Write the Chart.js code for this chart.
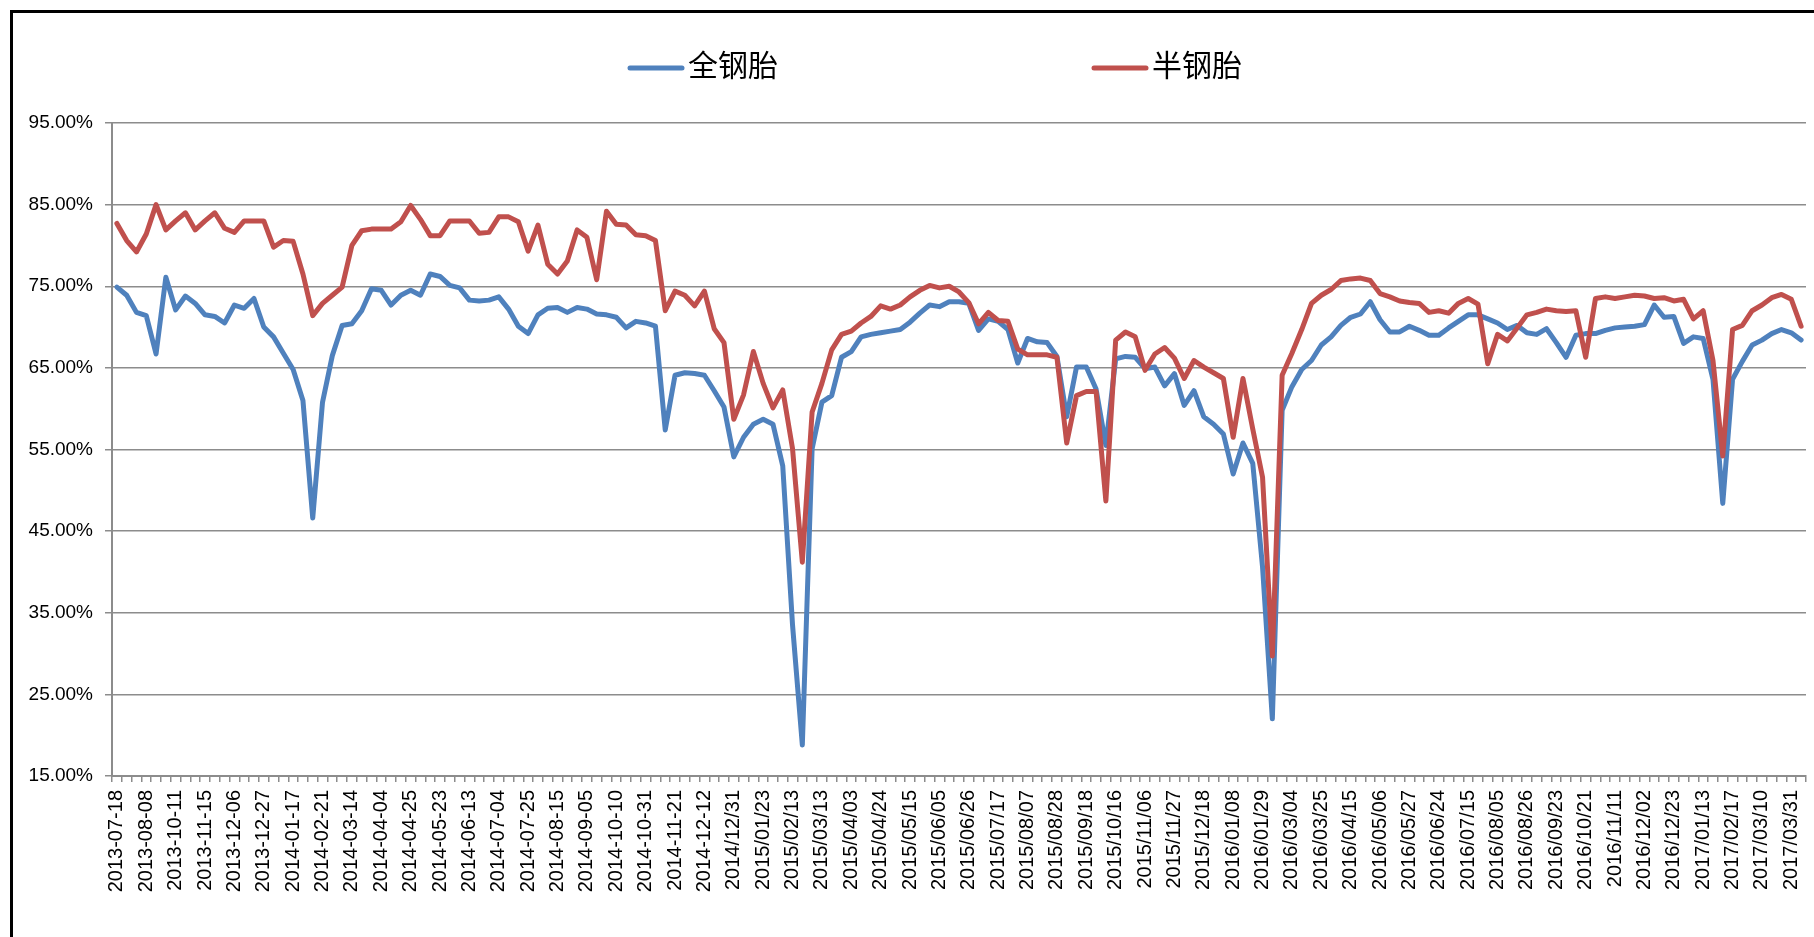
<!DOCTYPE html>
<html>
<head>
<meta charset="utf-8">
<script src="https://cdn.jsdelivr.net/npm/chart.js@4.4.0/dist/chart.umd.min.js"></script>
<style>
  html, body { margin: 0; padding: 0; background: #fff; }
  #wrap { position: absolute; left: 0; top: 0; width: 1814px; height: 937px; }
</style>
</head>
<body>
<div id="wrap"><canvas id="tyreChart" width="1814" height="937"></canvas></div>
<script>
// tick labels shown under the axis (one every 3 weeks)
const shownLabels = [
    '2013-07-18','2013-08-08','2013-10-11','2013-11-15','2013-12-06','2013-12-27',
    '2014-01-17','2014-02-21','2014-03-14','2014-04-04','2014-04-25','2014-05-23',
    '2014-06-13','2014-07-04','2014-07-25','2014-08-15','2014-09-05','2014-10-10',
    '2014-10-31','2014-11-21','2014-12-12','2014/12/31','2015/01/23','2015/02/13',
    '2015/03/13','2015/04/03','2015/04/24','2015/05/15','2015/06/05','2015/06/26',
    '2015/07/17','2015/08/07','2015/08/28','2015/09/18','2015/10/16','2015/11/06',
    '2015/11/27','2015/12/18','2016/01/08','2016/01/29','2016/03/04','2016/03/25',
    '2016/04/15','2016/05/06','2016/05/27','2016/06/24','2016/07/15','2016/08/05',
    '2016/08/26','2016/09/23','2016/10/21','2016/11/11','2016/12/02','2016/12/23',
    '2017/01/13','2017/02/17','2017/03/10','2017/03/31'
];

// 全钢胎 开工率 (%)
const allSteel = [
    74.9, 73.9, 71.8, 71.4, 66.7, 76.1, 72.1, 73.8, 72.9, 71.5,
    71.3, 70.5, 72.7, 72.3, 73.5, 70.0, 68.8, 66.8, 64.8, 61.0,
    46.6, 60.8, 66.5, 70.2, 70.4, 72.0, 74.7, 74.5, 72.7, 73.9,
    74.5, 73.9, 76.5, 76.2, 75.1, 74.8, 73.3, 73.2, 73.3, 73.7,
    72.2, 70.1, 69.2, 71.5, 72.3, 72.4, 71.8, 72.4, 72.2, 71.6,
    71.5, 71.2, 69.9, 70.7, 70.5, 70.1, 57.4, 64.1, 64.4, 64.3,
    64.1, 62.2, 60.2, 54.1, 56.5, 58.1, 58.7, 58.1, 53.0, 33.5,
    18.8, 55.1, 60.8, 61.6, 66.3, 67.0, 68.8, 69.1, 69.3, 69.5,
    69.7, 70.6, 71.7, 72.7, 72.5, 73.1, 73.1, 72.9, 69.6, 71.0,
    70.7, 69.7, 65.6, 68.6, 68.2, 68.1, 66.4, 59.0, 65.1, 65.1,
    62.4, 55.5, 66.1, 66.4, 66.3, 64.9, 65.1, 62.8, 64.3, 60.4,
    62.2, 59.0, 58.1, 56.9, 52.0, 55.8, 53.3, 40.6, 22.0, 59.8,
    62.7, 64.8, 65.9, 67.8, 68.8, 70.2, 71.2, 71.6, 73.1, 70.9,
    69.4, 69.4, 70.1, 69.6, 69.0, 69.0, 69.9, 70.7, 71.5, 71.5,
    71.0, 70.5, 69.7, 70.2, 69.3, 69.1, 69.8, 68.1, 66.3, 69.0,
    69.2, 69.2, 69.6, 69.9, 70.0, 70.1, 70.3, 72.7, 71.2, 71.3,
    68.0, 68.8, 68.6, 63.6, 48.4, 63.6, 65.8, 67.8, 68.4, 69.2,
    69.7, 69.3, 68.4
];

// 半钢胎 开工率 (%)
const semiSteel = [
    82.7, 80.6, 79.2, 81.4, 85.0, 81.9, 83.0, 84.0, 81.9, 83.0,
    84.0, 82.1, 81.6, 83.0, 83.0, 83.0, 79.8, 80.6, 80.5, 76.5,
    71.4, 72.9, 73.9, 74.9, 80.0, 81.8, 82.0, 82.0, 82.0, 82.9,
    84.9, 83.2, 81.2, 81.2, 83.0, 83.0, 83.0, 81.5, 81.6, 83.5,
    83.5, 82.9, 79.3, 82.5, 77.7, 76.5, 78.1, 81.9, 81.0, 75.8,
    84.2, 82.6, 82.5, 81.3, 81.2, 80.6, 72.0, 74.4, 73.9, 72.6,
    74.4, 69.8, 68.1, 58.7, 61.7, 67.0, 63.1, 60.1, 62.3, 55.1,
    41.2, 59.6, 63.1, 67.2, 69.1, 69.5, 70.5, 71.3, 72.6, 72.2,
    72.7, 73.7, 74.5, 75.1, 74.8, 75.0, 74.3, 73.0, 70.4, 71.8,
    70.8, 70.7, 67.3, 66.6, 66.6, 66.6, 66.3, 55.8, 61.6, 62.1,
    62.1, 48.7, 68.4, 69.4, 68.8, 64.7, 66.7, 67.5, 66.2, 63.7,
    65.9, 65.1, 64.4, 63.7, 56.5, 63.7, 57.5, 51.6, 29.7, 64.1,
    66.8, 69.7, 72.9, 73.9, 74.6, 75.7, 75.9, 76.0, 75.7, 74.1,
    73.7, 73.2, 73.0, 72.9, 71.8, 72.0, 71.7, 72.9, 73.5, 72.8,
    65.5, 69.1, 68.3, 69.9, 71.5, 71.8, 72.2, 72.0, 71.9, 72.0,
    66.3, 73.5, 73.7, 73.5, 73.7, 73.9, 73.8, 73.5, 73.6, 73.2,
    73.4, 71.0, 72.0, 65.9, 54.2, 69.7, 70.2, 72.0, 72.7, 73.6,
    74.0, 73.4, 70.1
];

const seriesNames = ['全钢胎', '半钢胎'];
const seriesColors = ['#4F81BD', '#C0504D'];

// one category per week, label only every 3rd
const categories = allSteel.map((v, i) => (i % 3 === 0 ? (shownLabels[i / 3] || '') : ''));

// frame + white background
const framePlugin = {
    id: 'frame',
    beforeDraw(chart) {
        const ctx = chart.ctx;
        ctx.save();
        ctx.fillStyle = '#fff';
        ctx.fillRect(0, 0, chart.width, chart.height);
        ctx.strokeStyle = '#000';
        ctx.lineWidth = 3;
        ctx.strokeRect(11.5, 11.5, chart.width + 10, chart.height + 10);
        ctx.restore();
    }
};

// legend like the excel one: two items far apart
const legendPlugin = {
    id: 'wideLegend',
    afterDraw(chart) {
        const ctx = chart.ctx;
        const spots = [630, 1094];
        ctx.save();
        chart.data.datasets.forEach((ds, i) => {
            const x = spots[i];
            const y = 68;
            ctx.strokeStyle = ds.borderColor;
            ctx.lineWidth = 5;
            ctx.lineCap = 'round';
            ctx.beginPath();
            ctx.moveTo(x, y);
            ctx.lineTo(x + 52, y);
            ctx.stroke();
            ctx.fillStyle = '#000';
            ctx.font = '30px "Noto Sans CJK SC"';
            ctx.textBaseline = 'middle';
            ctx.fillText(ds.label, x + 58, y - 3);
        });
        ctx.restore();
    }
};

const ctx = document.getElementById('tyreChart').getContext('2d');
const chart = new Chart(ctx, {
    type: 'line',
    data: {
        labels: categories,
        datasets: [{
            label: seriesNames[0],
            data: allSteel,
            borderColor: seriesColors[0],
            backgroundColor: seriesColors[0],
            order: 1
        }, {
            label: seriesNames[1],
            data: semiSteel,
            borderColor: seriesColors[1],
            backgroundColor: seriesColors[1],
            order: 0
        }]
    },
    options: {
        responsive: false,
        animation: false,
        layout: { padding: { top: 123, right: 8, bottom: 0, left: 0 } },
        elements: {
            point: { radius: 0, hoverRadius: 0 },
            line: { borderWidth: 5, tension: 0, borderJoinStyle: 'round', borderCapStyle: 'round' }
        },
        plugins: {
            legend: { display: false },
            tooltip: { enabled: false }
        },
        scales: {
            x: {
                offset: true,
                grid: { offset: true, drawOnChartArea: false, drawTicks: true, tickLength: 6, color: '#8c8c8c', lineWidth: 1.5 },
                border: { color: '#8c8c8c', width: 2 },
                ticks: {
                    autoSkip: false,
                    minRotation: 90,
                    maxRotation: 90,
                    padding: 8,
                    color: '#000',
                    font: { family: '"Liberation Sans", Arial, sans-serif', size: 20 }
                },
                afterFit(scale) {
                    scale.height = 161;
                    scale.paddingLeft = 0;
                    scale.paddingRight = 0;
                }
            },
            y: {
                min: 15,
                max: 95,
                ticks: {
                    stepSize: 10,
                    padding: 12,
                    color: '#000',
                    font: { family: '"Liberation Sans", Arial, sans-serif', size: 19 },
                    callback: value => value.toFixed(2) + '%'
                },
                grid: { color: '#8c8c8c', lineWidth: 1.5, tickLength: 7 },
                border: { color: '#8c8c8c', width: 2 },
                afterFit(scale) { scale.width = 112; }
            }
        }
    },
    plugins: [framePlugin, legendPlugin]
});
</script>
</body>
</html>
